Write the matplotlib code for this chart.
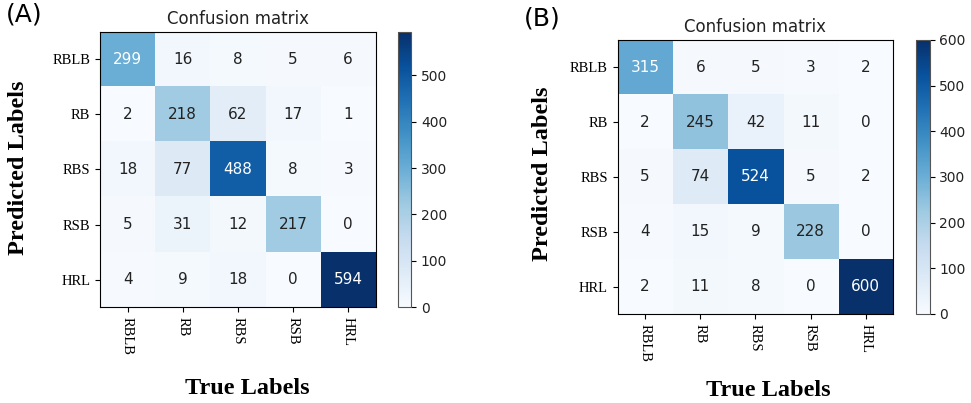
import matplotlib
matplotlib.use("Agg")
import matplotlib.pyplot as plt
import numpy as np

etiquetas = ["RBLB", "RB", "RBS", "RSB", "HRL"]

matriz_a = [
    [299, 16, 8, 5, 6],
    [2, 218, 62, 17, 1],
    [18, 77, 488, 8, 3],
    [5, 31, 12, 217, 0],
    [4, 9, 18, 0, 594],
]

matriz_b = [
    [315, 6, 5, 3, 2],
    [2, 245, 42, 11, 0],
    [5, 74, 524, 5, 2],
    [4, 15, 9, 228, 0],
    [2, 11, 8, 0, 600],
]

fig = plt.figure(figsize=(9.71, 4.03), dpi=100)


def dibujar_matriz(cm, pos_ax, pos_cb, letra, pos_letra, pos_ylabel, pos_xlabel):
    cm = np.array(cm)
    ax = fig.add_axes(pos_ax)
    cax = fig.add_axes(pos_cb)
    im = ax.imshow(cm, interpolation="nearest", cmap="Blues", aspect="auto",
                   vmin=0, vmax=cm.max())
    ax.set_title("Confusion matrix", fontsize=12, color="#222222")
    cb = fig.colorbar(im, cax=cax)
    cb.set_ticks(range(0, int(cm.max()) + 1, 100))
    cb.ax.tick_params(labelsize=10, labelcolor="#222222")
    cb.outline.set_edgecolor("#555555")

    ax.set_xticks(range(len(etiquetas)))
    ax.set_yticks(range(len(etiquetas)))
    ax.set_xticklabels(etiquetas, rotation=-90, family="Liberation Serif", fontsize=10.5)
    ax.set_yticklabels(etiquetas, family="Liberation Serif", fontsize=10.5)

    # texto blanco en las celdas oscuras
    umbral = cm.max() / 2.0
    for i in range(cm.shape[0]):
        for j in range(cm.shape[1]):
            ax.text(j, i, str(cm[i, j]), ha="center", va="center", fontsize=11,
                    color="white" if cm[i, j] > umbral else "#222222")

    fig.text(pos_letra[0], pos_letra[1], letra, fontsize=18, ha="left", va="top")
    fig.text(pos_ylabel[0], pos_ylabel[1], "Predicted Labels", rotation=90,
             ha="center", va="center", family="Liberation Serif",
             fontweight="bold", fontsize=17.5)
    fig.text(pos_xlabel[0], pos_xlabel[1], "True Labels", ha="center", va="center",
             family="Liberation Serif", fontweight="bold", fontsize=17.5)


dibujar_matriz(matriz_a, [0.103, 0.238, 0.284, 0.683], [0.410, 0.238, 0.0134, 0.683],
               "(A)", (0.006, 0.995), (0.019, 0.583), (0.255, 0.035))
dibujar_matriz(matriz_b, [0.636, 0.221, 0.284, 0.680], [0.943, 0.221, 0.0144, 0.680],
               "(B)", (0.540, 0.985), (0.559, 0.568), (0.791, 0.032))

fig.savefig("out.png", dpi=100)
